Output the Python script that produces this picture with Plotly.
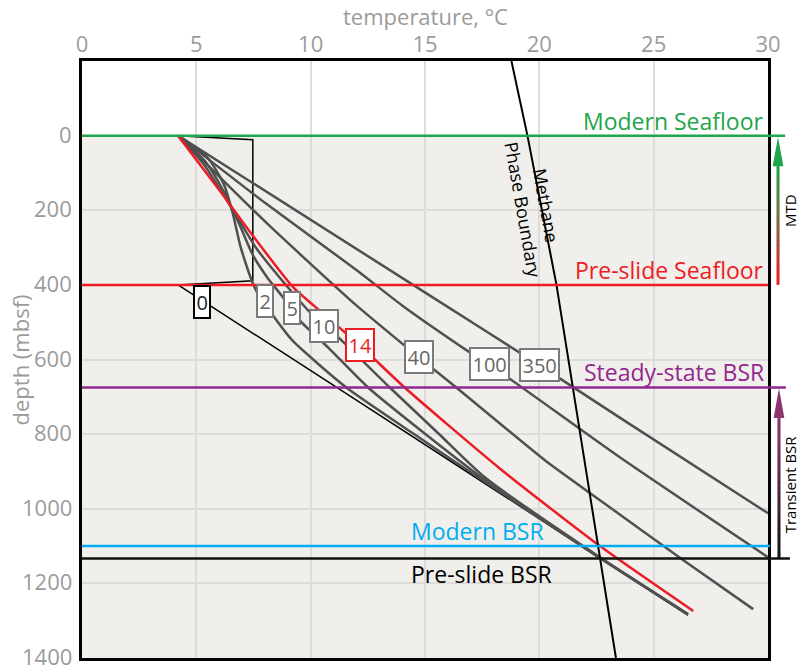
import plotly.graph_objects as go

# ---------------- data ----------------
temp_ticks = [0, 5, 10, 15, 20, 25, 30]
depth_ticks = [0, 200, 400, 600, 800, 1000, 1200, 1400]

# geotherms: temperature (°C) vs depth (mbsf), labelled by time since slide (kyr)
g0_T = [4.2, 7.47, 7.47, 4.2, 12.0, 22.6, 26.5]
g0_D = [0, 11, 389, 400, 709, 1130, 1285]
g2_T = [4.2, 5.5, 6.2, 6.6, 6.9, 7.2, 7.45, 7.7, 8.35, 9.2, 11.56, 14.5, 17.3, 22.6, 26.5]
g2_D = [0, 60, 130, 210, 290, 350, 393, 425, 482, 549, 675, 799, 915, 1130, 1284]
g5_T = [4.2, 5.4, 6.2, 6.9, 7.47, 8.1, 8.72, 9.52, 10.8, 12.51, 15.0, 17.45, 22.6, 26.5]
g5_D = [0, 70, 150, 240, 320, 380, 428, 495, 570, 675, 799, 915, 1130, 1283]
g10_T = [4.2, 5.3, 6.2, 7.0, 7.6, 8.3, 8.94, 9.96, 11.2, 13.46, 15.6, 17.6, 22.65, 26.5]
g10_D = [0, 75, 160, 240, 300, 355, 402, 473, 540, 675, 799, 915, 1130, 1282]
g14_T = [4.2, 6.02, 7.47, 9.23, 10.47, 12.2, 14.11, 18.27, 22.65, 26.73]
g14_D = [0, 147, 268, 406, 473, 565, 675, 892, 1100, 1274]
g40_T = [4.2, 8.0, 12.0, 14.73, 16.37, 20.24, 22.65, 26.3, 29.35]
g40_D = [0, 230, 455, 594, 675, 870, 977, 1138, 1269]
g100_T = [4.2, 8.0, 12.0, 14.0, 16.96, 18.62, 23.52, 30.0]
g100_D = [0, 180, 360, 455, 581, 648, 862, 1130]
g350_T = [4.2, 15.2, 20.0, 23.5, 30.0]
g350_D = [0, 428, 615, 755, 1012]

# methane phase boundary
pb_T = [18.78, 19.48, 20.75, 21.47, 22.65, 23.35]
pb_D = [-200, 0, 400, 675, 1133, 1400]

# curve labels
lab_text = ["0", "2", "5", "10", "14", "40", "100", "350"]
lab_T = [5.24, 8.0, 9.17, 10.6, 12.15, 14.73, 17.8, 20.0]
lab_D = [446, 444, 463, 509, 562, 594, 613, 616]

# reference horizons
ref_names = ["Modern Seafloor", "Pre-slide Seafloor", "Steady-state BSR", "Modern BSR", "Pre-slide BSR"]
ref_D = [0, 400, 675, 1100, 1133]

# ---------------- styling ----------------
FONT = "Open Sans"
GRAY_TXT = "#9b9b9b"
C_GREEN = "#1fa54b"
C_RED = "#ed1c24"
C_PURPLE = "#92278f"
C_CYAN = "#00aeef"
C_BLACK = "#111111"
C_GEO = "#505050"

fig = go.Figure()

curves = [
    (g0_T, g0_D, "#000000", 1.5),
    (g2_T, g2_D, C_GEO, 2.5),
    (g5_T, g5_D, C_GEO, 2.5),
    (g10_T, g10_D, C_GEO, 2.5),
    (g40_T, g40_D, C_GEO, 2.5),
    (g100_T, g100_D, C_GEO, 2.5),
    (g350_T, g350_D, C_GEO, 2.5),
    (g14_T, g14_D, C_RED, 2.5),
]
for T, D, col, w in curves:
    fig.add_trace(go.Scatter(x=T, y=D, mode="lines", line=dict(color=col, width=w, shape="spline", smoothing=0.6),
                             hoverinfo="skip", showlegend=False))
# keep the sharp corners of the t=0 profile
fig.data[0].line.shape = "linear"

fig.add_trace(go.Scatter(x=pb_T, y=pb_D, mode="lines", line=dict(color="#000000", width=2),
                         hoverinfo="skip", showlegend=False))

shapes = []
# sediment background
shapes.append(dict(type="rect", xref="x", yref="y", x0=0, x1=30, y0=0, y1=1400,
                   fillcolor="#f1efeb", line=dict(width=0), layer="below"))

ref_cols = [C_GREEN, C_RED, C_PURPLE, C_CYAN, C_BLACK]
ref_ext = [1.025, 1.0, 1.026, 1.003, 1.032]
for d, c, e in zip(ref_D, ref_cols, ref_ext):
    shapes.append(dict(type="line", xref="paper", yref="y", x0=0, x1=e, y0=d, y1=d,
                       line=dict(color=c, width=2.5)))


def hexrgb(h):
    h = h.lstrip("#")
    return tuple(int(h[i:i + 2], 16) for i in (0, 2, 4))


def grad_arrow(xp, d_bot, d_tip, head_len, c_bot, c_top, nseg=24):
    cb, ct = hexrgb(c_bot), hexrgb(c_top)
    d_base = d_tip + head_len
    sw = 0.0022
    for i in range(nseg):
        f0 = i / nseg
        f1 = (i + 1) / nseg
        y0 = d_bot + (d_base - d_bot) * f0
        y1 = d_bot + (d_base - d_bot) * f1
        fm = (f0 + f1) / 2
        col = "rgb(%d,%d,%d)" % tuple(round(cb[k] + (ct[k] - cb[k]) * fm) for k in range(3))
        shapes.append(dict(type="rect", xref="paper", yref="y", x0=xp - sw, x1=xp + sw, y0=y0, y1=y1 - 1,
                           fillcolor=col, line=dict(width=0)))
    hw = 0.0078
    shapes.append(dict(type="path", xref="paper", yref="y",
                       path="M %f,%f L %f,%f L %f,%f Z" % (xp - hw, d_base, xp + hw, d_base, xp, d_tip),
                       fillcolor=c_top, line=dict(width=0)))


grad_arrow(1.0146, 400, 4, 78, C_RED, C_GREEN)
grad_arrow(1.0160, 1133, 677, 80, "#111111", "#8e3470")

ann = []
for t, txt, T, D in zip(lab_text, lab_text, lab_T, lab_D):
    if t == "0":
        bc, tc = "#000000", "#222222"
    elif t == "14":
        bc, tc = C_RED, C_RED
    else:
        bc, tc = "#7a7a7a", "#666666"
    ann.append(dict(x=T, y=D, xref="x", yref="y", text=txt, showarrow=False,
                    font=dict(family=FONT, size=20, color=tc), bgcolor="#ffffff",
                    bordercolor=bc, borderwidth=2, borderpad=1.5))

# depth tick labels (drawn as text at each tick value)
for d in depth_ticks:
    ann.append(dict(x=-0.012, xref="paper", y=d, yref="y", text=str(d), showarrow=False,
                    xanchor="right", yanchor="middle", yshift=2,
                    font=dict(family=FONT, size=22, color=GRAY_TXT)))

txt_font = lambda c, s=23: dict(family=FONT, size=s, color=c)
ann.append(dict(x=0.997, xref="paper", y=ref_D[0], yref="y", text=ref_names[0], showarrow=False,
                xanchor="right", yanchor="bottom", yshift=-3, font=txt_font(C_GREEN)))
ann.append(dict(x=0.997, xref="paper", y=ref_D[1], yref="y", text=ref_names[1], showarrow=False,
                xanchor="right", yanchor="bottom", yshift=-3, font=txt_font(C_RED)))
ann.append(dict(x=0.997, xref="paper", y=ref_D[2], yref="y", text=ref_names[2], showarrow=False,
                xanchor="right", yanchor="bottom", yshift=-3, font=txt_font(C_PURPLE)))
ann.append(dict(x=14.3, xref="x", y=ref_D[3], yref="y", text=ref_names[3], showarrow=False,
                xanchor="left", yanchor="bottom", yshift=-3, font=txt_font(C_CYAN)))
ann.append(dict(x=14.3, xref="x", y=ref_D[4], yref="y", text=ref_names[4], showarrow=False,
                xanchor="left", yanchor="top", yshift=2, font=txt_font("#000000")))
ann.append(dict(x=19.8, xref="x", y=193, yref="y", text="Methane<br>Phase Boundary", showarrow=False,
                xanchor="center", yanchor="middle",
                textangle=80, font=dict(family=FONT, size=18, color="#000000")))
ann.append(dict(x=1.0318, xref="paper", y=200, yref="y", text="MTD", showarrow=False,
                xanchor="center", yanchor="middle",
                textangle=-90, font=dict(family=FONT, size=15, color="#000000")))
ann.append(dict(x=1.0318, xref="paper", y=935, yref="y", text="Transient BSR", showarrow=False,
                xanchor="center", yanchor="middle",
                textangle=-90, font=dict(family=FONT, size=15, color="#000000")))
# axis titles
ann.append(dict(x=0.5, xref="paper", y=1.075, yref="paper", text="temperature, °C", showarrow=False,
                xanchor="center", yanchor="middle",
                font=dict(family=FONT, size=22, color=GRAY_TXT)))
ann.append(dict(x=-0.0904, xref="paper", y=0.5, yref="paper", text="depth (mbsf)", showarrow=False,
                xanchor="center", yanchor="middle",
                textangle=-90, font=dict(family=FONT, size=22, color=GRAY_TXT)))

axis_common = dict(showgrid=True, gridcolor="#dcdcdc", gridwidth=2, zeroline=False,
                   showline=True, mirror=True, linecolor="#000000", linewidth=3,
                   tickfont=dict(family=FONT, size=22, color=GRAY_TXT),
                   automargin=False, ticklabeloverflow="allow")

fig.update_layout(
    width=799, height=665,
    margin=dict(l=82, r=31, t=61, b=7),
    paper_bgcolor="#ffffff", plot_bgcolor="#ffffff",
    shapes=shapes, annotations=ann,
    xaxis=dict(range=[0, 30], side="top", tickvals=temp_ticks, ticks="", ticklabelstandoff=-3,
               **axis_common),
    yaxis=dict(range=[1400, -200], tickvals=depth_ticks, ticks="", showticklabels=False,
               **axis_common),
)

fig.write_html("out.html")
